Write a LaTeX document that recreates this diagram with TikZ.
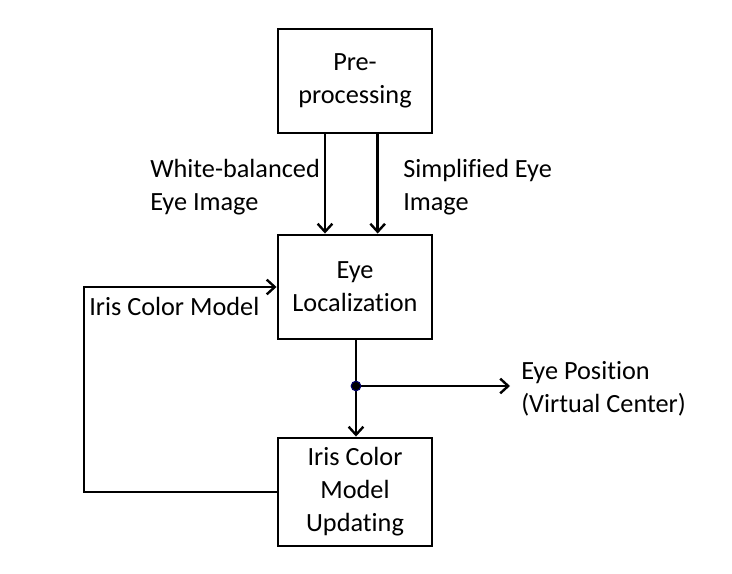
\documentclass[tikz,border=0pt]{standalone}
\usepackage{fontspec}
\setmainfont{Carlito}[Ligatures={NoCommon}]
\usetikzlibrary{arrows.meta}

\begin{document}
\begin{tikzpicture}[
    x=0.75pt, y=-0.75pt,
    every node/.style={font=\fontsize{19.7}{24.75}\selectfont},
    block/.style={
        draw, line width=2.2pt, align=center,
        minimum width=115.5pt, minimum height=78pt
    },
    lbl/.style={anchor=west, align=left, inner sep=0pt},
    arr/.style={-{Straight Barb[length=6pt,width=11pt,line width=1.8pt]}, line width=2pt},
    ln/.style={line width=2pt}
]
\useasboundingbox (0,0) rectangle (732,574);

% Bloques
\node[block] (pre)    at (355,81)  {Pre-\\processing};
\node[block] (eyeloc) at (355,287) {Eye\\Localization};
\node[block, minimum height=81pt] (upd) at (355,492) {Iris Color\\Model\\Updating};

% Imagenes hacia la localizacion
\draw[arr] ([xshift=-22.5pt]pre.south) -- ([xshift=-22.5pt]eyeloc.north);
\draw[arr] ([xshift=17pt]pre.south) -- ([xshift=17pt]eyeloc.north);
\node[lbl] (wb) at (150,187) {White-balanced\\Eye Image};
\node[lbl] (si) at (403,187) {Simplified Eye\\Image};

% Salida y actualizacion
\coordinate (jn)  at (356,386);
\coordinate (out) at (510,386);
\draw[ln] (eyeloc.south -| jn) -- (jn);
\draw[arr] (jn) -- (upd.north -| jn);
\draw[arr] (jn) -- (out);
\fill[black, draw=blue!40!black, line width=0.8pt] (jn) circle (3.6pt);
\node[lbl] (pos) at (521,389) {Eye Position\\(Virtual Center)};

% Realimentacion del modelo
\coordinate (fb) at (84,492);
\draw[arr] (upd.west) -- (fb) |- (eyeloc.west);
\node[lbl] (icm) at (89,306) {Iris Color Model};

\end{tikzpicture}
\end{document}
